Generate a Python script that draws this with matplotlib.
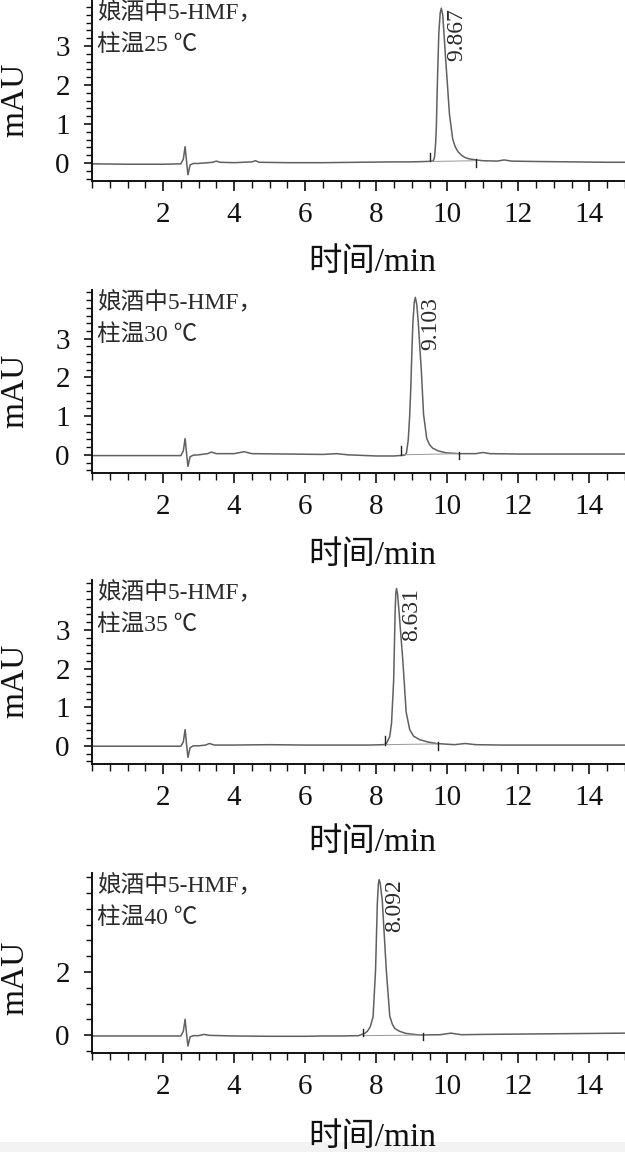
import matplotlib
matplotlib.use("Agg")
import matplotlib.pyplot as plt
from matplotlib.ticker import MultipleLocator, FixedLocator
from matplotlib.patches import Rectangle
import numpy as np

plt.rcParams['font.family'] = ['Liberation Serif', 'Noto Sans CJK SC', 'DejaVu Sans']

# ---------------- data ----------------
temps = ["25", "30", "35", "40"]
rt_labels = ["9.867", "9.103", "8.631", "8.092"]

t25 = [0, 1.0, 2.0, 2.5, 2.57, 2.62, 2.66, 2.70, 2.76, 2.85, 3.0, 3.4, 3.5, 3.6, 4.0, 4.5, 4.6, 4.7,
       5.5, 6.5, 7.5, 8.5, 9.0, 9.4, 9.6, 9.64, 9.67, 9.69, 9.72, 9.76, 9.80, 9.83, 9.87, 9.90, 9.95,
       10.0, 10.06, 10.15, 10.22, 10.30, 10.40, 10.48, 10.60, 10.81, 11.0, 11.4, 11.6, 11.8, 12.5,
       13.5, 14.5, 15.0]
s25 = [-0.02, -0.03, -0.03, -0.02, 0.10, 0.42, 0.05, -0.30, -0.05, -0.01, -0.01, 0.02, 0.05, 0.02,
       0.01, 0.03, 0.06, 0.02, 0.01, 0.01, 0.02, 0.03, 0.03, 0.04, 0.05, 0.15, 0.50, 0.90, 2.05, 3.33,
       3.85, 3.97, 3.80, 3.40, 2.70, 2.05, 1.25, 0.62, 0.42, 0.29, 0.20, 0.15, 0.11, 0.08, 0.06, 0.05,
       0.08, 0.05, 0.04, 0.03, 0.02, 0.02]

t30 = [0, 1.0, 2.0, 2.5, 2.57, 2.62, 2.66, 2.70, 2.76, 2.85, 3.0, 3.25, 3.36, 3.5, 4.0, 4.28, 4.5,
       5.5, 6.5, 6.88, 7.2, 8.0, 8.5, 8.8, 8.85, 8.90, 8.94, 8.97, 9.00, 9.03, 9.07, 9.10, 9.14, 9.18,
       9.27, 9.33, 9.42, 9.50, 9.59, 9.75, 9.97, 10.34, 10.8, 11.0, 11.2, 12.0, 13.0, 14.0, 15.0]
s30 = [-0.02, -0.02, -0.02, -0.02, 0.10, 0.42, 0.05, -0.30, -0.05, -0.01, 0.00, 0.03, 0.07, 0.03,
       0.03, 0.08, 0.03, 0.02, 0.01, 0.03, 0.00, -0.03, -0.03, -0.01, 0.05, 0.39, 1.00, 1.68, 2.60,
       3.40, 3.95, 4.07, 3.88, 3.45, 2.15, 1.05, 0.42, 0.26, 0.17, 0.10, 0.05, 0.03, 0.03, 0.06, 0.03,
       0.02, 0.02, 0.02, 0.02]

t35 = [0, 1.0, 2.0, 2.5, 2.57, 2.62, 2.66, 2.70, 2.76, 2.85, 3.0, 3.2, 3.3, 3.45, 4.0, 5.0, 6.0,
       7.0, 7.8, 8.2, 8.28, 8.38, 8.43, 8.49, 8.53, 8.55, 8.57, 8.60, 8.64, 8.75, 8.84, 8.94, 9.05,
       9.22, 9.45, 9.69, 10.2, 10.5, 10.8, 11.5, 12.5, 13.5, 15.0]
s35 = [-0.01, -0.01, -0.01, -0.01, 0.10, 0.42, 0.05, -0.30, -0.05, 0.00, 0.00, 0.02, 0.06, 0.02,
       0.02, 0.03, 0.02, 0.02, 0.02, 0.03, 0.05, 0.24, 0.59, 1.71, 3.43, 3.95, 4.07, 3.92, 3.48, 2.18,
       0.88, 0.42, 0.25, 0.16, 0.10, 0.06, 0.03, 0.06, 0.03, 0.02, 0.02, 0.02, 0.02]

t40 = [0, 1.0, 2.0, 2.5, 2.57, 2.62, 2.66, 2.70, 2.76, 2.85, 3.0, 3.15, 3.3, 4.0, 5.0, 6.0, 6.5,
       7.0, 7.5, 7.67, 7.75, 7.83, 7.91, 7.98, 8.03, 8.06, 8.08, 8.11, 8.17, 8.28, 8.38, 8.45, 8.52,
       8.65, 8.84, 9.22, 9.8, 10.1, 10.4, 11.0, 12.0, 13.0, 14.0, 15.0]
s40 = [-0.03, -0.03, -0.03, -0.03, 0.12, 0.50, 0.05, -0.35, -0.06, -0.02, -0.02, 0.02, -0.01,
       -0.03, -0.04, -0.04, -0.03, -0.03, -0.02, 0.05, 0.12, 0.26, 0.58, 2.06, 4.18, 4.80, 4.93, 4.82,
       4.25, 2.10, 0.60, 0.35, 0.21, 0.12, 0.05, 0.00, 0.01, 0.06, 0.01, 0.02, 0.03, 0.04, 0.05, 0.06]

times = [t25, t30, t35, t40]
signals = [s25, s30, s35, s40]

# integration start / end of the main peak (min) and baseline level there
peak_start = [9.50, 8.70, 8.24, 7.63]
peak_end = [10.81, 10.34, 9.73, 9.31]
base_start = [0.04, 0.00, 0.03, -0.02]
base_end = [0.06, 0.03, 0.05, 0.00]

ylims = [(-0.46, 4.18), (-0.47, 4.26), (-0.47, 4.29), (-0.57, 5.14)]
y_major = [[0, 1, 2, 3], [0, 1, 2, 3], [0, 1, 2, 3], [0, 2]]
y_minor_step = [0.2, 0.2, 0.2, 0.5]

# ---------------- layout ----------------
W, H = 625, 1152
fig = plt.figure(figsize=(W / 100, H / 100), dpi=100)
fig.patch.set_facecolor('white')
band = Rectangle((0, 0), 1, 10 / H, transform=fig.transFigure,
                 facecolor='#f3f3f3', edgecolor='none', zorder=-5)
fig.patches.append(band)

panel_px = [(0, 181), (290, 473), (580, 764), (873, 1053)]
xlabel_y = [-0.365, -0.37, -0.343, -0.383]
ylabel_y = [0.45, 0.45, 0.45, 0.42]
left_px, right_px = 92, 625

line_col = '#606060'

for i in range(4):
    top, bot = panel_px[i]
    ax = fig.add_axes([left_px / W, 1 - bot / H, (right_px - left_px) / W, (bot - top) / H])
    ax.patch.set_alpha(0)
    ax.plot(times[i], signals[i], color=line_col, lw=1.1, solid_joinstyle='round')
    # baseline under peak
    ax.plot([peak_start[i], peak_end[i]], [base_start[i], base_end[i]], color='#999999', lw=0.7)
    ax.plot([peak_start[i], peak_start[i]], [base_start[i], base_start[i] + 0.22], color='#222222', lw=1.0)
    ax.plot([peak_end[i], peak_end[i]], [base_end[i] - 0.15, base_end[i] + 0.05], color='#222222', lw=1.0)

    ax.set_xlim(0, 15)
    ax.set_ylim(*ylims[i])
    for s in ['top', 'right']:
        ax.spines[s].set_visible(False)
    for s in ['left', 'bottom']:
        ax.spines[s].set_linewidth(1.4)
        ax.spines[s].set_color('#111111')

    ax.xaxis.set_major_locator(FixedLocator([2, 4, 6, 8, 10, 12, 14]))
    ax.xaxis.set_minor_locator(MultipleLocator(0.5))
    ax.yaxis.set_major_locator(FixedLocator(y_major[i]))
    ax.yaxis.set_minor_locator(MultipleLocator(y_minor_step[i]))
    ax.tick_params(axis='x', which='major', direction='out', length=7, width=1.2, labelsize=21, pad=8,
                   color='#111111', labelcolor='#111111')
    ax.tick_params(axis='x', which='minor', direction='out', length=5, width=1.0, color='#111111')
    ax.tick_params(axis='y', which='major', direction='out', length=6, width=1.2, labelsize=21, pad=10,
                   color='#111111', labelcolor='#111111')
    ax.tick_params(axis='y', which='minor', direction='out', length=4, width=1.0, color='#111111')

    ax.set_xlabel('时间/min', fontsize=24, color='#111111')
    ax.xaxis.set_label_coords(0.525, xlabel_y[i])
    ax.xaxis.label.set_zorder(10)
    ax.set_ylabel('mAU', fontsize=24, color='#111111')
    ax.yaxis.set_label_coords(-0.116, ylabel_y[i])

    ax.text(0.01, 0.99, '娘酒中5-HMF，\n柱温' + temps[i] + ' ℃', transform=ax.transAxes,
            ha='left', va='top', fontsize=17, color='#2a2a2a', linespacing=1.6)

    # retention-time label
    k = int(np.argmax(signals[i]))
    ax.annotate(rt_labels[i], xy=(times[i][k], signals[i][k]), xytext=(11, 0),
                textcoords='offset points', rotation=90, ha='center', va='top',
                fontsize=17, color='#2a2a2a')

fig.savefig('out.png', dpi=100, facecolor='white')
